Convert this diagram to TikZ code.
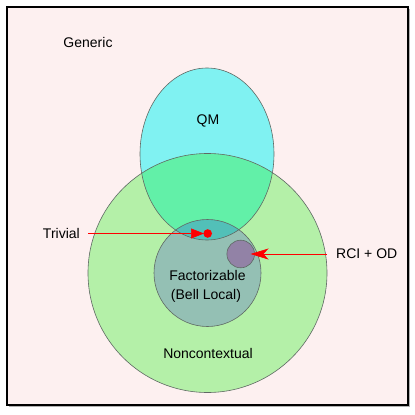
\documentclass[tikz,border=0pt]{standalone}
\usepackage{fontspec}
\setmainfont{Liberation Sans}
\usetikzlibrary{arrows.meta}
\definecolor{bgpink}{RGB}{253,240,240}
\definecolor{qmcyan}{RGB}{128,242,242}
\definecolor{ncgreen}{RGB}{180,240,168}
\definecolor{ovgreen}{RGB}{98,240,168}
\definecolor{fcgray}{RGB}{148,192,180}
\definecolor{fcteal}{RGB}{82,192,184}
\definecolor{rcipurple}{RGB}{146,130,166}
\definecolor{edgegray}{RGB}{95,105,100}
\definecolor{arrred}{RGB}{255,0,0}
\tikzset{
  lbl/.style={font=\fontsize{14}{17}\selectfont, inner sep=1pt, anchor=center},
  outline/.style={draw=edgegray, line width=0.6pt},
  redline/.style={draw=arrred, line width=0.7pt},
}
\begin{document}
\begin{tikzpicture}[x=1pt,y=-1pt]
\useasboundingbox (0,0) rectangle (415,415);
% frame
\fill[gray!60] (9,9) rectangle (410,407);
\fill[bgpink] (7,7) rectangle (408,405);
\draw[black, line width=2.6pt] (7,7) rectangle (408,405);
% shapes
\coordinate (qmc) at (207,154);
\coordinate (ncc) at (207.5,273);
\coordinate (fcc) at (207.5,273);
\coordinate (rcic) at (240.7,254);
\fill[qmcyan] (qmc) ellipse [x radius=67, y radius=86];
\fill[ncgreen] (ncc) circle [radius=119.5];
\begin{scope}
  \clip (qmc) ellipse [x radius=67, y radius=86];
  \fill[ovgreen] (ncc) circle [radius=119.5];
\end{scope}
\fill[fcgray] (fcc) circle [radius=53.5];
\begin{scope}
  \clip (qmc) ellipse [x radius=67, y radius=86];
  \fill[fcteal] (fcc) circle [radius=53.5];
\end{scope}
\draw[outline] (qmc) ellipse [x radius=67, y radius=86];
\draw[outline] (ncc) circle [radius=119.5];
\draw[outline] (fcc) circle [radius=53.5];
\filldraw[fill=rcipurple, outline] (rcic) circle [radius=13.8];
% labels
\node[lbl] (generic) at (88,42) {Generic};
\node[lbl] (qm) at (208,121) {QM};
\node[lbl, anchor=east, inner xsep=8pt] (trivial) at (88,233.5) {Trivial};
\node[lbl, anchor=west, inner xsep=9pt] (rci) at (327,254) {RCI + OD};
\node[lbl] (fact) at (207.5,275) {Factorizable};
\node[lbl] (bell) at (206,296) {(Bell Local)};
\node[lbl] (nonc) at (208,353) {Noncontextual};
% arrows
\coordinate (trivpt) at (204,233.5);
\coordinate (rcipt) at (250.5,254);
\draw[redline, -{Triangle[length=13pt,width=10pt]}] (trivial.east) -- (trivpt);
\fill[arrred] (207.7,233.5) circle [radius=4.3];
\draw[redline, -{Stealth[length=18pt,width=11pt,inset=5pt]}] (rci.west) -- (rcipt);
\end{tikzpicture}
\end{document}
